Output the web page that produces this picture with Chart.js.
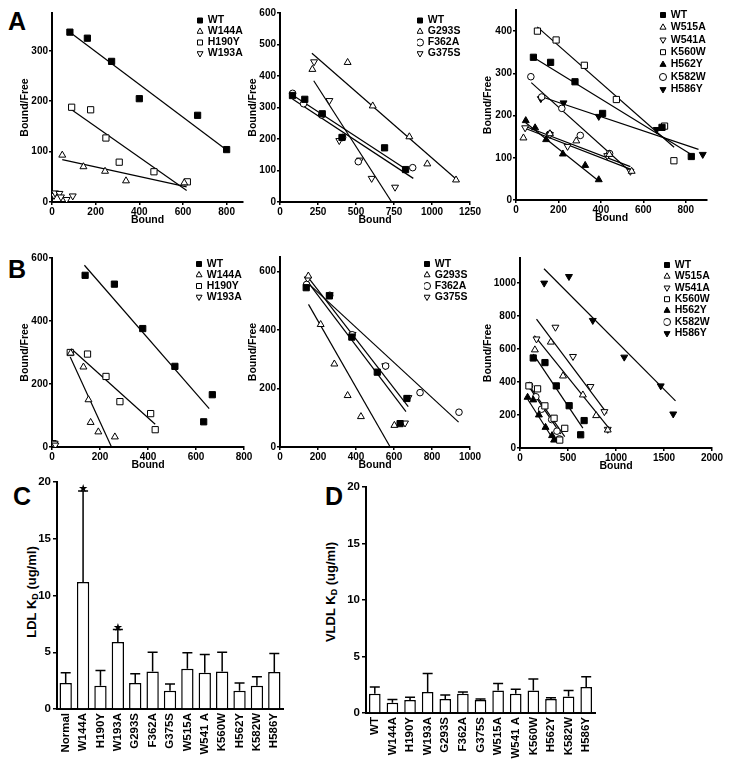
<!DOCTYPE html>
<html>
<head>
<meta charset="utf-8">
<script src="https://cdn.jsdelivr.net/npm/chart.js@4.4.1/dist/chart.umd.min.js"></script>
<style>
body { margin: 0; background: #fff; }
#page { position: relative; width: 729px; height: 766px; overflow: hidden; background: #fff;
        font-family: "Liberation Sans", Arial, sans-serif; font-weight: bold; color: #000; }
#page canvas { position: absolute; }
.tag { position: absolute; font-size: 25px; line-height: 25px; }
.ktitle { position: absolute; width: 140px; text-align: center; font-size: 13px; line-height: 16px;
          transform: rotate(-90deg); white-space: nowrap; }
.ktitle sub { font-size: 9px; vertical-align: -2px; line-height: 0; }
</style>
</head>
<body>
<div id="page">
  <div class="tag" style="left:8px;top:9px">A</div>
  <div class="tag" style="left:8px;top:257px">B</div>
  <div class="tag" style="left:13px;top:484px">C</div>
  <div class="tag" style="left:325px;top:484px">D</div>
  <div class="ktitle" style="left:-38px;top:584px">LDL K<sub>D</sub> (ug/ml)</div>
  <div class="ktitle" style="left:261px;top:584px">VLDL K<sub>D</sub> (ug/ml)</div>
</div>
<script>
// ---- panel A : LDL Scatchard plots (Bound vs Bound/Free) ----
const a1Names = ['WT', 'W144A', 'H190Y', 'W193A'];
const a1Points = [
  [[82,337],[162,325],[273,279],[400,205],[667,172],[800,104]],
  [[47,93],[144,70],[243,61],[339,42],[606,38]],
  [[90,188],[177,183],[247,127],[308,79],[467,60],[620,40]],
  [[9,13],[14,18],[34,17],[41,10],[67,5],[95,12]]
];
const a1Fits = [[82,337,800,103], [47,84,617,30], [90,183,617,23], null];

const a2Names = ['WT', 'G293S', 'F362A', 'G375S'];
const a2Points = [
  [[82,338],[163,326],[278,280],[408,205],[688,172],[826,103]],
  [[213,421],[445,443],[610,305],[851,207],[969,121],[1158,70]],
  [[83,345],[155,312],[274,276],[412,205],[515,128],[873,109]],
  [[224,445],[325,322],[390,195],[526,133],[603,75],[757,47]]
];
const a2Fits = [[82,340,829,104], [210,472,1160,72], [82,327,877,75], [222,385,735,0]];

const a3Names = ['WT', 'W515A', 'W541A', 'K560W', 'H562Y', 'K582W', 'H586Y'];
const a3Points = [
  [[82,338],[163,326],[278,280],[408,205],[688,172],[826,103]],
  [[35,147],[160,157],[284,140],[440,108],[545,68]],
  [[43,171],[160,155],[243,127],[430,105],[539,68]],
  [[101,400],[189,379],[322,319],[473,238],[700,175],[744,93]],
  [[46,188],[90,171],[142,143],[221,109],[326,82],[390,48]],
  [[70,292],[121,244],[158,156],[216,217],[303,153],[441,110]],
  [[117,240],[224,230],[390,198],[663,167],[880,108]]
];
const a3Fits = [[85,337,826,108], [45,174,539,79], [42,170,545,72], [100,410,745,125],
                [46,183,390,45], [72,278,539,67], [117,245,860,120]];

// ---- panel B : second set of Scatchard plots ----
const b1Names = ['WT', 'W144A', 'H190Y', 'W193A'];
const b1Points = [
  [[138,545],[260,517],[378,376],[512,256],[632,80],[668,166]],
  [[78,298],[131,254],[152,150],[161,78],[193,48],[262,32]],
  [[76,300],[148,295],[225,224],[283,144],[411,106],[430,55]],
  [[3,14],[7,8],[11,12],[14,6]]
];
const b1Fits = [[135,577,655,122], [76,286,248,0], [80,312,430,72], null];

const b2Names = ['WT', 'G293S', 'F362A', 'G375S'];
const b2Points = [
  [[138,545],[260,517],[378,376],[512,256],[632,80],[668,166]],
  [[149,585],[214,419],[286,284],[356,176],[426,104],[602,74]],
  [[140,556],[262,519],[380,384],[556,277],[737,186],[942,119]],
  [[146,575],[262,521],[382,385],[554,278],[676,169],[658,82]]
];
const b2Fits = [[138,572,663,121], [150,488,580,0], [140,565,940,85], [146,582,675,138]];

const b3Names = ['WT', 'W515A', 'W541A', 'K560W', 'H562Y', 'K582W', 'H586Y'];
const b3Points = [
  [[138,545],[260,517],[378,376],[512,256],[632,80],[668,166]],
  [[155,594],[321,641],[448,436],[655,321],[793,196],[914,109]],
  [[172,660],[369,731],[552,554],[734,372],[879,220],[914,113]],
  [[93,376],[183,358],[259,255],[355,180],[414,48],[466,119]],
  [[79,307],[138,291],[197,200],[266,125],[334,75],[355,48]],
  [[100,378],[165,310],[225,235],[330,172],[385,102],[410,55]],
  [[252,998],[510,1038],[758,772],[1086,550],[1466,376],[1596,206]]
];
const b3Fits = [[138,568,655,120], [150,680,920,125], [172,780,907,210], [95,380,466,69],
                [80,295,362,38], [100,365,424,85], [250,1085,1620,285]];

// ---- panels C and D : KD bar charts ----
const cLabels = ['Normal','W144A','H190Y','W193A','G293S','F362A','G375S','W515A','W541 A','K560W','H562Y','K582W','H586Y'];
const cMeans  = [2.3, 11.2, 2.05, 5.9, 2.3, 3.3, 1.6, 3.55, 3.2, 3.3, 1.6, 2.05, 3.25];
const cErr    = [0.9, 8.0, 1.35, 1.1, 0.8, 1.7, 0.6, 1.4, 1.6, 1.7, 0.7, 0.8, 1.65];
const cStars  = [1, 3];

const dLabels = ['WT','W144A','H190Y','W193A','G293S','F362A','G375S','W515A','W541 A','K560W','H562Y','K582W','H586Y'];
const dMeans  = [1.7, 0.9, 1.15, 1.85, 1.25, 1.7, 1.15, 2.0, 1.7, 2.0, 1.25, 1.45, 2.3];
const dErr    = [0.6, 0.3, 0.25, 1.65, 0.35, 0.15, 0.1, 0.6, 0.4, 1.0, 0.1, 0.55, 0.9];

// marker look of each mutant: [pointStyle, rotation, filled]
const looks = {
  WT: ['rect', 0, true],       W144A: ['triangle', 0, false], H190Y: ['rect', 0, false],
  W193A: ['triangle', 180, false], G293S: ['triangle', 0, false], F362A: ['circle', 0, false],
  G375S: ['triangle', 180, false], W515A: ['triangle', 0, false], W541A: ['triangle', 180, false],
  K560W: ['rect', 0, false],   H562Y: ['triangle', 0, true],  K582W: ['circle', 0, false],
  H586Y: ['triangle', 180, true]
};
const markSize = { rect: 4.4, triangle: 4, circle: 3.3 };

Chart.defaults.font.family = '"Liberation Sans", Arial, sans-serif';
Chart.defaults.font.weight = 'bold';
Chart.defaults.color = '#000';
Chart.defaults.animation = false;

const TICK_FONT = { size: 10, weight: 'bold' };
const TITLE_FONT = { size: 10.5, weight: 'bold' };
const LEG_FONT = 10.5;

function addCanvas(id, box) {
  const c = document.createElement('canvas');
  c.id = id;
  c.width = box[2];
  c.height = box[3];
  c.style.left = box[0] + 'px';
  c.style.top = box[1] + 'px';
  document.getElementById('page').appendChild(c);
  return c;
}

// move the chartArea legend to where it sits in the figure
const legendPlace = {
  id: 'legendPlace',
  afterLayout(chart, args, opts) {
    const lg = chart.legend;
    if (!lg) return;
    lg.left = opts.x - opts.box / 2 - opts.pad;
    lg.top = opts.y - LEG_FONT / 2 - opts.pad;
    lg.right = lg.left + lg.width;
    lg.bottom = lg.top + lg.height;
  }
};

// whiskers (upper only) plus significance stars
const errorBars = {
  id: 'errorBars',
  afterDatasetsDraw(chart) {
    const ds = chart.data.datasets[0];
    const meta = chart.getDatasetMeta(0);
    const ys = chart.scales.y;
    const ctx = chart.ctx;
    ctx.save();
    ctx.strokeStyle = '#000';
    ctx.fillStyle = '#000';
    ctx.lineWidth = 1.5;
    ctx.font = '11px "DejaVu Sans"';
    ctx.textAlign = 'center';
    ctx.textBaseline = 'alphabetic';
    meta.data.forEach((bar, i) => {
      const top = ys.getPixelForValue(ds.data[i] + ds.err[i]);
      ctx.beginPath();
      ctx.moveTo(bar.x, bar.y);
      ctx.lineTo(bar.x, top);
      ctx.moveTo(bar.x - 5, top);
      ctx.lineTo(bar.x + 5, top);
      ctx.stroke();
      if (ds.stars.includes(i)) ctx.fillText('\u2605', bar.x, top + 1);
    });
    ctx.restore();
  }
};

function axisBits(tickLen) {
  return {
    grid: { display: true, drawOnChartArea: false, drawTicks: true, tickLength: tickLen, color: '#000', lineWidth: 1.5 },
    border: { display: true, color: '#000', width: 2 }
  };
}

// keep only the round ticks (axis ends past the last labelled tick)
function roundTicks(step) {
  return s => { s.ticks = s.ticks.filter(tk => Math.abs(tk.value / step - Math.round(tk.value / step)) < 1e-6); };
}

function scatterPanel(p) {
  const [bx, by, bw, bh] = p.box;
  const [l, t, r, b] = p.area;
  const cv = addCanvas(p.id, p.box);
  const lh = TITLE_FONT.size * 1.2;
  const datasets = [];
  p.names.forEach((name, i) => {
    const [style, rot, filled] = looks[name];
    datasets.push({
      label: name,
      data: p.points[i].map(pt => ({ x: pt[0], y: pt[1] })),
      pointStyle: style,
      pointRotation: rot,
      pointRadius: markSize[style],
      backgroundColor: filled ? '#000' : '#fff',
      borderColor: '#000',
      borderWidth: 1
    });
  });
  p.fits.forEach((f, i) => {
    if (!f) return;
    datasets.push({
      label: 'fit ' + p.names[i],
      data: [{ x: f[0], y: f[1] }, { x: f[2], y: f[3] }],
      showLine: true,
      pointRadius: 0,
      borderColor: '#000',
      backgroundColor: '#000',
      borderWidth: 1.2
    });
  });
  const pad = p.legend[2] - LEG_FONT;
  new Chart(cv, {
    type: 'scatter',
    data: { datasets },
    plugins: [legendPlace],
    options: {
      responsive: false,
      events: [],
      layout: { padding: { left: 0, top: t - by, right: bx + bw - r, bottom: 0 } },
      plugins: {
        tooltip: { enabled: false },
        legend: {
          position: 'chartArea',
          align: 'start',
          labels: {
            usePointStyle: true, boxWidth: 5, boxHeight: 5, padding: pad,
            textAlign: 'left', color: '#000',
            font: { size: LEG_FONT, weight: 'bold' },
            filter: item => !item.text.startsWith('fit')
          }
        },
        legendPlace: { x: p.legend[0] - bx, y: p.legend[1] - by, box: 5, pad: pad }
      },
      scales: {
        x: {
          type: 'linear', position: 'bottom', min: 0, max: p.xr[0], bounds: 'data',
          ticks: { stepSize: p.xr[1], maxRotation: 0, padding: 1,
                   font: TICK_FONT, color: '#000', callback: v => String(v) },
          ...axisBits(3),
          title: { display: true, text: 'Bound', color: '#000', font: TITLE_FONT,
                   padding: { top: 0, bottom: bh - (p.xTitleY - by) - lh / 2 } },
          afterBuildTicks: roundTicks(p.xr[1]),
          afterFit: s => { s.height = bh - (b - by); }
        },
        y: {
          type: 'linear', position: 'left', min: 0, max: p.yr[0], bounds: 'data',
          ticks: { stepSize: p.yr[1], padding: 1,
                   font: TICK_FONT, color: '#000', callback: v => String(v) },
          ...axisBits(3),
          title: { display: true, text: 'Bound/Free', color: '#000', font: TITLE_FONT,
                   padding: { top: (p.yTitleX - bx) - lh / 2, bottom: 0 } },
          afterBuildTicks: roundTicks(p.yr[1]),
          afterFit: s => { s.width = l - bx; }
        }
      }
    }
  });
}

function barPanel(p) {
  const [bx, by, bw, bh] = p.box;
  const [l, t, r, b] = p.area;
  const cv = addCanvas(p.id, p.box);
  new Chart(cv, {
    type: 'bar',
    data: {
      labels: p.labels,
      datasets: [{
        data: p.means, err: p.err, stars: p.stars,
        backgroundColor: '#fff', borderColor: '#000', borderWidth: 1.5,
        barPercentage: p.barPct, categoryPercentage: 1
      }]
    },
    plugins: [errorBars],
    options: {
      responsive: false,
      events: [],
      layout: { padding: { left: 0, top: t - by, right: bx + bw - r, bottom: 0 } },
      plugins: { legend: { display: false }, tooltip: { enabled: false } },
      scales: {
        x: {
          ticks: { minRotation: 90, maxRotation: 90, autoSkip: false, padding: 4,
                   font: { size: 11.5, weight: 'bold' }, color: '#000' },
          grid: { display: true, drawOnChartArea: false, drawTicks: false },
          border: { display: true, color: '#000', width: 2 },
          afterFit: s => { s.height = bh - (b - by); }
        },
        y: {
          min: 0, max: 20,
          ticks: { stepSize: 5, padding: 2, font: { size: 11.5, weight: 'bold' }, color: '#000' },
          ...axisBits(4),
          afterFit: s => { s.width = l - bx; }
        }
      }
    }
  });
}

scatterPanel({ id: 'a1', box: [0, 0, 258, 235], area: [52, 13, 243, 202], xr: [875, 200], yr: [375, 100],
  yTitleX: 25, xTitleY: 220, legend: [200, 20.5, 11], names: a1Names, points: a1Points, fits: a1Fits });
scatterPanel({ id: 'a2', box: [232, 0, 252, 235], area: [280, 13, 470, 202], xr: [1250, 250], yr: [600, 100],
  yTitleX: 253, xTitleY: 220, legend: [420, 20.5, 11], names: a2Names, points: a2Points, fits: a2Fits });
scatterPanel({ id: 'a3', box: [468, 0, 261, 235], area: [516, 10, 707, 200], xr: [900, 200], yr: [450, 100],
  yTitleX: 488, xTitleY: 218, legend: [663, 15, 12.4], names: a3Names, points: a3Points, fits: a3Fits });
scatterPanel({ id: 'b1', box: [0, 240, 258, 235], area: [52, 258, 244, 447], xr: [800, 200], yr: [600, 200],
  yTitleX: 25, xTitleY: 465, legend: [199, 264, 11], names: b1Names, points: b1Points, fits: b1Fits });
scatterPanel({ id: 'b2', box: [232, 240, 252, 235], area: [280, 257, 470, 447], xr: [1000, 200], yr: [650, 200],
  yTitleX: 253, xTitleY: 465, legend: [427, 264, 11], names: b2Names, points: b2Points, fits: b2Fits });
scatterPanel({ id: 'b3', box: [468, 240, 261, 235], area: [520, 258, 712, 448], xr: [2000, 500], yr: [1150, 200],
  yTitleX: 488, xTitleY: 466.5, legend: [667, 265, 11.4], names: b3Names, points: b3Points, fits: b3Fits });

barPanel({ id: 'c', box: [0, 470, 305, 296], area: [57, 482, 283, 709], barPct: 0.71,
  labels: cLabels, means: cMeans, err: cErr, stars: cStars });
barPanel({ id: 'd', box: [308, 470, 300, 296], area: [366, 487, 595, 713], barPct: 0.66,
  labels: dLabels, means: dMeans, err: dErr, stars: [] });
</script>
</body>
</html>
